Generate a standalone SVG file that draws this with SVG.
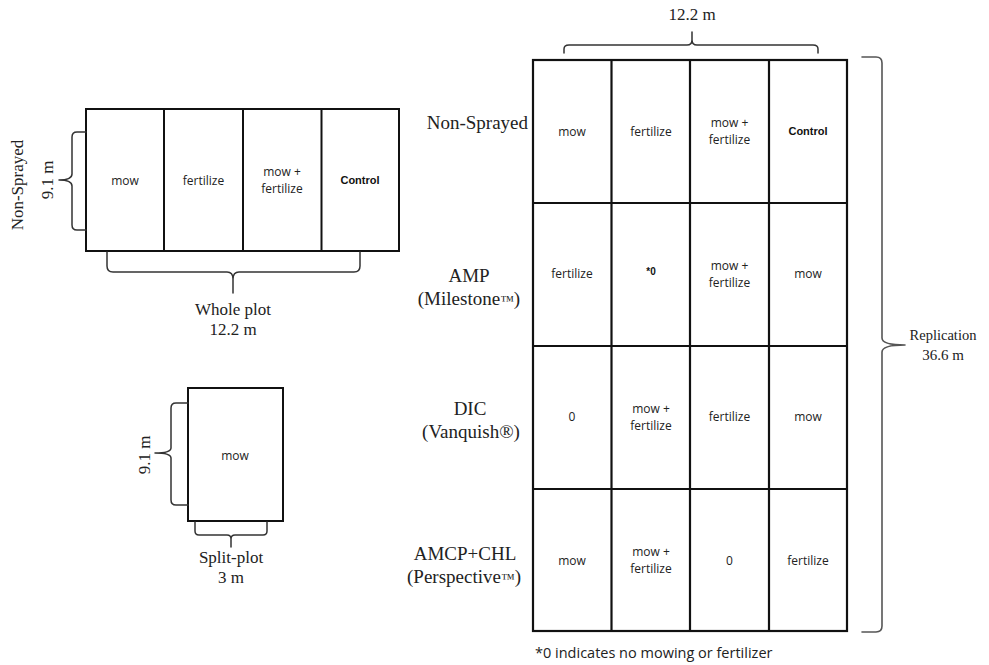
<svg xmlns="http://www.w3.org/2000/svg" width="989" height="665" viewBox="0 0 989 665">
<style>
.bg{fill:#ffffff}
.cell{fill:#ffffff;stroke:#111;stroke-width:2}
.grid{fill:none;stroke:#111;stroke-width:2.2}
.brace{fill:none;stroke:#333;stroke-width:1.5;stroke-linejoin:round;stroke-linecap:round}
.brace2{fill:none;stroke:#555;stroke-width:1.6;stroke-linejoin:round;stroke-linecap:round}
.t{font-family:"Open Sans","Liberation Sans",sans-serif;font-size:12px;fill:#222;text-anchor:middle}
.b{font-family:"Liberation Sans",Arial,sans-serif;font-size:11px;font-weight:bold;fill:#111;text-anchor:middle}
.s{font-family:"Liberation Serif","Times New Roman",serif;font-size:17px;fill:#222;text-anchor:middle}
.r{font-family:"Liberation Serif","Times New Roman",serif;font-size:19px;fill:#222;text-anchor:middle}
.n{font-family:"Open Sans","Liberation Sans",sans-serif;font-size:14.5px;fill:#222}
</style>
<rect class="bg" x="0" y="0" width="989" height="665"/>

<g id="whole-plot">
  <rect class="cell" x="86" y="109" width="313" height="142"/>
  <line class="cell" x1="164" y1="109" x2="164" y2="251"/>
  <line class="cell" x1="243" y1="109" x2="243" y2="251"/>
  <line class="cell" x1="321.5" y1="109" x2="321.5" y2="251"/>
  <text class="t" x="125" y="185">mow</text>
  <text class="t" x="203.5" y="185">fertilize</text>
  <text class="t" x="282" y="176">mow +</text>
  <text class="t" x="282" y="193">fertilize</text>
  <text class="b" x="360" y="184">Control</text>
  <text class="s" transform="translate(23,185) rotate(-90)">Non-Sprayed</text>
  <text class="s" transform="translate(53,180) rotate(-90)">9.1  m</text>
  <text class="s" x="233" y="315">Whole plot</text>
  <text class="s" x="233" y="335">12.2 m</text>
</g>

<g id="split-plot">
  <rect class="cell" x="188" y="388" width="95" height="133"/>
  <text class="t" x="235" y="460">mow</text>
  <text class="s" transform="translate(150,455) rotate(-90)">9.1 m</text>
  <text class="s" x="231" y="563">Split-plot</text>
  <text class="s" x="231" y="583">3 m</text>
</g>

<g id="replication">
  <rect class="grid" x="533" y="60" width="314" height="571"/>
  <line class="grid" x1="611.5" y1="60" x2="611.5" y2="631"/>
  <line class="grid" x1="690" y1="60" x2="690" y2="631"/>
  <line class="grid" x1="769" y1="60" x2="769" y2="631"/>
  <line class="grid" x1="533" y1="203" x2="847" y2="203"/>
  <line class="grid" x1="533" y1="346" x2="847" y2="346"/>
  <line class="grid" x1="533" y1="489" x2="847" y2="489"/>
  <text class="s" x="692" y="20">12.2 m</text>
  <text class="s" x="943" y="340" style="font-size:14.5px">Replication</text>
  <text class="s" x="943" y="360" style="font-size:15px">36.6 m</text>
</g>

<g id="row-non-sprayed">
  <text class="r" x="528" y="129" style="text-anchor:end">Non-Sprayed</text>
  <text class="t" x="572" y="136">mow</text>
  <text class="t" x="651" y="136">fertilize</text>
  <text class="t" x="729.5" y="127">mow +</text>
  <text class="t" x="729.5" y="144">fertilize</text>
  <text class="b" x="808" y="135">Control</text>
</g>

<g id="row-amp">
  <text class="r" x="469" y="282">AMP</text>
  <text class="r" x="469" y="305">(Milestone<tspan style="font-size:14px">™</tspan>)</text>
  <text class="t" x="572" y="278">fertilize</text>
  <text class="b" x="651" y="275" style="font-size:10px">*0</text>
  <text class="t" x="729.5" y="270">mow +</text>
  <text class="t" x="729.5" y="287">fertilize</text>
  <text class="t" x="808" y="278">mow</text>
</g>

<g id="row-dic">
  <text class="r" x="470" y="415">DIC</text>
  <text class="r" x="471" y="438">(Vanquish®)</text>
  <text class="t" x="572" y="421">0</text>
  <text class="t" x="651" y="413">mow +</text>
  <text class="t" x="651" y="430">fertilize</text>
  <text class="t" x="729.5" y="421">fertilize</text>
  <text class="t" x="808" y="421">mow</text>
</g>

<g id="row-amcp">
  <text class="r" x="465" y="560">AMCP+CHL</text>
  <text class="r" x="464" y="583">(Perspective<tspan style="font-size:14px">™</tspan>)</text>
  <text class="t" x="572" y="565">mow</text>
  <text class="t" x="651" y="556">mow +</text>
  <text class="t" x="651" y="573">fertilize</text>
  <text class="t" x="729.5" y="565">0</text>
  <text class="t" x="808" y="565">fertilize</text>
</g>

<g id="footnote">
  <text class="n" x="535" y="658">*0 indicates no mowing or fertilizer</text>
</g>

<g id="connectors">
  <path class="brace" d="M86,132 L77,132 Q72,132 72,137 L72,174 Q72,180 59,180 Q72,180 72,186 L72,225 Q72,230 77,230 L86,230"/>
  <path class="brace" d="M107,252 L107,266 Q107,272 113,272 L227,272 Q233,272 233,279 L233,293 M233,279 Q233,272 239,272 L354,272 Q360,272 360,266 L360,252"/>
  <path class="brace" d="M188,403 L176,403 Q171,403 171,408 L171,448 Q171,453 155,453 Q171,453 171,458 L171,500 Q171,505 176,505 L188,505"/>
  <path class="brace" d="M195,522 L195,531 Q195,535 199,535 L227,535 Q231,535 231,539 L231,547 M231,539 Q231,535 235,535 L263,535 Q267,535 267,531 L267,522"/>
  <path class="brace" d="M564,53 L564,49 Q564,45 569,45 L687,45 Q692,45 692,40 L692,32 M692,40 Q692,45 697,45 L813,45 Q818,45 818,49 L818,53"/>
  <path class="brace2" d="M862,57 L876,57 Q882,57 882,63 L882,338 Q882,345 905,345 Q882,345 882,352 L882,626 Q882,632 876,632 L862,632"/>
</g>
</svg>
